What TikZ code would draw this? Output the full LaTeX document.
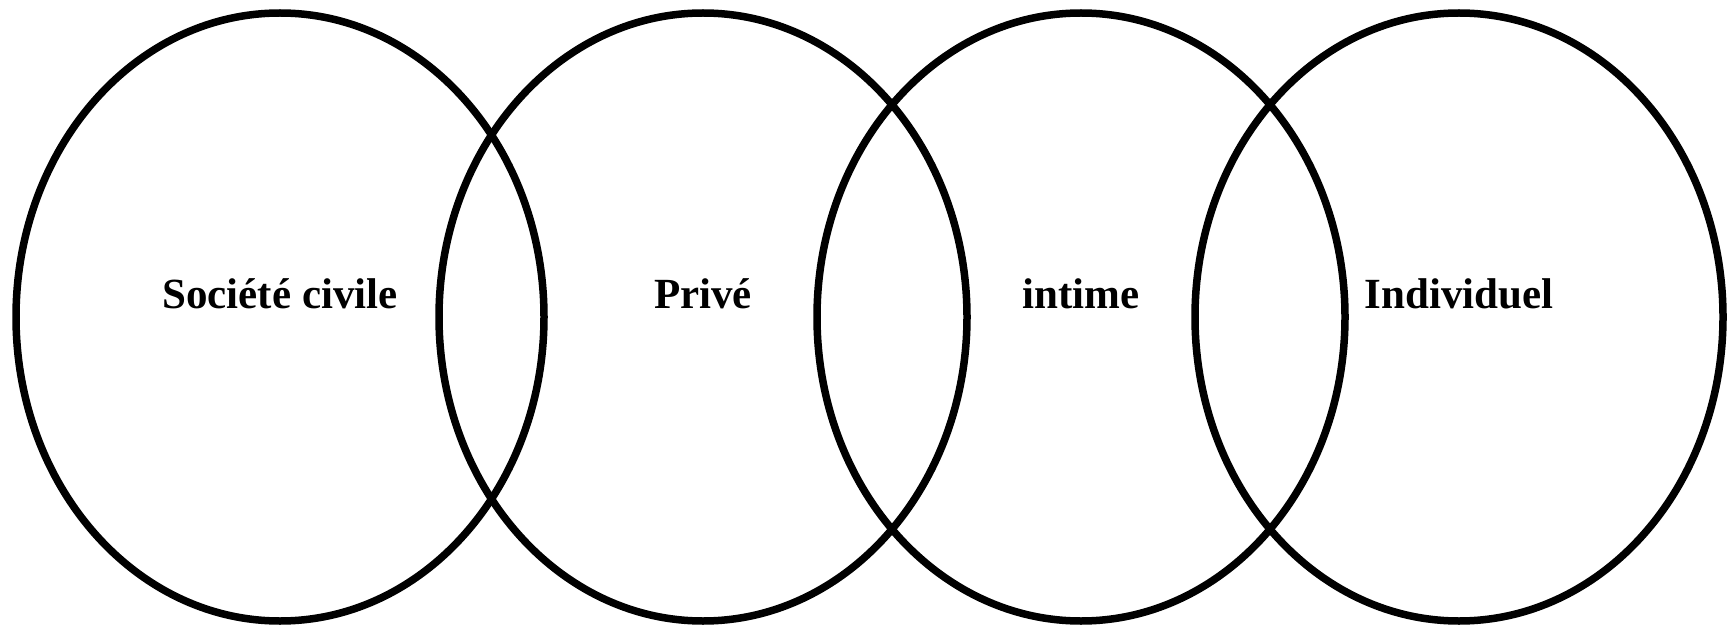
\documentclass[tikz,border=0pt]{standalone}
\usepackage{fontspec}
\setmainfont{Liberation Serif}
\usetikzlibrary{shapes.geometric}
\begin{document}
\begin{tikzpicture}[x=1pt,y=1pt,
  sphere/.style={ellipse, draw=black, line width=7.5pt, minimum width=528pt, minimum height=608pt, inner sep=0pt},
  lbl/.style={anchor=base, inner sep=0pt, font=\bfseries\fontsize{43}{50}\selectfont}]
\useasboundingbox (0,0) rectangle (1735,625);
\node[sphere] (e1) at (280,308) {};
\node[sphere] (e2) at (703,308) {};
\node[sphere] (e3) at (1081,308) {};
\node[sphere] (e4) at (1459,308) {};
\node[lbl] (t1) at (280,317) {Société civile};
\node[lbl] (t2) at (703,317) {Privé};
\node[lbl] (t3) at (1081,317) {intime};
\node[lbl] (t4) at (1459,317) {Individuel};
\end{tikzpicture}
\end{document}
